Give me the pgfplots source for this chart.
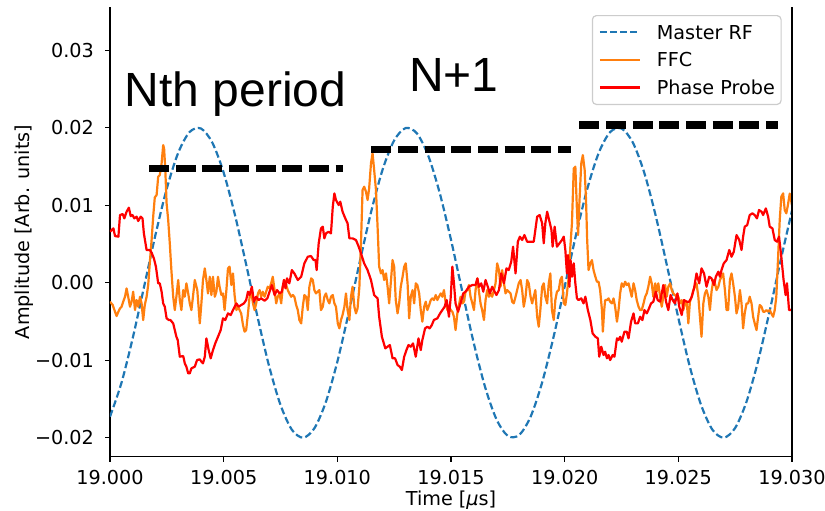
\documentclass[border=0pt]{standalone}
\usepackage{fontspec}
\setmainfont{DejaVu Sans}
\newfontfamily\annfont{Liberation Sans}
\usepackage{pgfplots}
\usepackage{pgfplotstable}
\pgfplotsset{compat=1.18}

\definecolor{rfblue}{HTML}{1F77B4}
\definecolor{ffcorange}{HTML}{FF7F0E}
\definecolor{probered}{HTML}{FF0000}

% Master RF reference (time in us, amplitude in arb. units)
\pgfplotstableread[row sep=\\]{
t a\\
19.0000 -0.01729\\ 19.0005 -0.01296\\ 19.0010 -0.00714\\ 19.0015 -0.00051\\
19.0020 0.00618\\ 19.0025 0.01217\\ 19.0030 0.01676\\ 19.0035 0.01944\\
19.0040 0.01990\\ 19.0045 0.01808\\ 19.0050 0.01420\\ 19.0055 0.00870\\
19.0060 0.00221\\ 19.0065 -0.00454\\ 19.0070 -0.01078\\ 19.0075 -0.01577\\
19.0080 -0.01897\\ 19.0085 -0.02000\\ 19.0090 -0.01874\\ 19.0095 -0.01535\\
19.0100 -0.01020\\ 19.0105 -0.00388\\ 19.0110 0.00287\\ 19.0115 0.00930\\
19.0120 0.01467\\ 19.0125 0.01836\\ 19.0130 0.01995\\ 19.0135 0.01927\\
19.0140 0.01638\\ 19.0145 0.01162\\ 19.0150 0.00554\\ 19.0155 -0.00118\\
19.0160 -0.00777\\ 19.0165 -0.01346\\ 19.0170 -0.01762\\ 19.0175 -0.01977\\
19.0180 -0.01965\\ 19.0185 -0.01730\\ 19.0190 -0.01296\\ 19.0195 -0.00714\\
19.0200 -0.00051\\ 19.0205 0.00618\\ 19.0210 0.01217\\ 19.0215 0.01676\\
19.0220 0.01944\\ 19.0225 0.01990\\ 19.0230 0.01808\\ 19.0235 0.01420\\
19.0240 0.00870\\ 19.0245 0.00221\\ 19.0250 -0.00454\\ 19.0255 -0.01078\\
19.0260 -0.01577\\ 19.0265 -0.01897\\ 19.0270 -0.02000\\ 19.0275 -0.01874\\
19.0280 -0.01535\\ 19.0285 -0.01020\\ 19.0290 -0.00388\\ 19.0295 0.00287\\
19.0300 0.00930\\
}\masterrf

% FFC signal
\pgfplotstableread[row sep=\\]{
t a\\
19.00000 -0.00245\\ 19.00012 -0.00288\\ 19.00022 -0.00374\\ 19.00029 -0.00430\\
19.00037 -0.00374\\ 19.00044 -0.00331\\ 19.00051 -0.00310\\ 19.00058 -0.00245\\
19.00066 -0.00181\\ 19.00073 -0.00073\\ 19.00080 -0.00181\\ 19.00088 -0.00310\\
19.00095 -0.00245\\ 19.00102 -0.00116\\ 19.00110 -0.00353\\ 19.00117 -0.00224\\
19.00124 -0.00310\\ 19.00132 -0.00181\\ 19.00139 -0.00267\\ 19.00146 -0.00482\\
19.00153 -0.00288\\ 19.00161 -0.00181\\ 19.00168 -0.00030\\ 19.00175 0.00250\\
19.00183 0.00551\\ 19.00190 0.00852\\ 19.00197 0.01101\\ 19.00205 0.01131\\
19.00212 0.01368\\ 19.00219 0.01389\\ 19.00227 0.01540\\ 19.00234 0.01776\\
19.00238 0.01733\\ 19.00243 0.01475\\ 19.00249 0.01024\\ 19.00256 0.00809\\
19.00263 0.00508\\ 19.00270 0.00163\\ 19.00278 -0.00181\\ 19.00285 -0.00353\\
19.00292 -0.00181\\ 19.00300 0.00035\\ 19.00307 -0.00224\\ 19.00314 -0.00353\\
19.00322 -0.00095\\ 19.00329 -0.00181\\ 19.00336 -0.00008\\ 19.00344 -0.00138\\
19.00351 -0.00267\\ 19.00358 -0.00353\\ 19.00365 -0.00181\\ 19.00373 0.00035\\
19.00384 -0.00095\\ 19.00395 -0.00525\\ 19.00402 -0.00267\\ 19.00409 0.00035\\
19.00417 0.00185\\ 19.00424 0.00035\\ 19.00431 -0.00138\\ 19.00439 0.00077\\
19.00446 -0.00159\\ 19.00453 0.00077\\ 19.00461 -0.00181\\ 19.00468 -0.00116\\
19.00475 0.00077\\ 19.00482 -0.00052\\ 19.00490 -0.00159\\ 19.00497 -0.00138\\
19.00504 -0.00353\\ 19.00512 -0.00095\\ 19.00519 0.00185\\ 19.00526 0.00207\\
19.00534 -0.00030\\ 19.00541 0.00120\\ 19.00548 -0.00159\\ 19.00556 -0.00353\\
19.00563 -0.00310\\ 19.00570 -0.00353\\ 19.00577 -0.00396\\ 19.00585 -0.00546\\
19.00592 -0.00632\\ 19.00599 -0.00611\\ 19.00607 -0.00396\\ 19.00614 -0.00181\\
19.00621 -0.00116\\ 19.00629 -0.00267\\ 19.00636 -0.00353\\ 19.00643 -0.00267\\
19.00651 -0.00138\\ 19.00658 -0.00095\\ 19.00665 -0.00181\\ 19.00672 -0.00116\\
19.00680 -0.00181\\ 19.00687 -0.00116\\ 19.00694 -0.00052\\ 19.00702 -0.00073\\
19.00709 -0.00008\\ 19.00716 0.00077\\ 19.00724 -0.00095\\ 19.00731 -0.00267\\
19.00738 -0.00181\\ 19.00746 -0.00138\\ 19.00753 -0.00267\\ 19.00760 -0.00052\\
19.00768 0.00035\\ 19.00775 -0.00030\\ 19.00782 -0.00095\\ 19.00789 -0.00138\\
19.00797 -0.00181\\ 19.00804 -0.00159\\ 19.00811 -0.00181\\ 19.00819 -0.00288\\
19.00826 -0.00353\\ 19.00833 -0.00482\\ 19.00841 -0.00525\\ 19.00848 -0.00310\\
19.00855 -0.00159\\ 19.00863 -0.00181\\ 19.00870 -0.00353\\ 19.00877 -0.00052\\
19.00885 0.00056\\ 19.00892 0.00035\\ 19.00899 -0.00095\\ 19.00906 -0.00138\\
19.00914 -0.00116\\ 19.00921 -0.00095\\ 19.00928 -0.00353\\ 19.00936 -0.00310\\
19.00943 -0.00181\\ 19.00950 -0.00138\\ 19.00958 -0.00224\\ 19.00965 -0.00267\\
19.00972 -0.00181\\ 19.00980 -0.00159\\ 19.00987 -0.00267\\ 19.00994 -0.00310\\
19.01002 -0.00525\\ 19.01009 -0.00589\\ 19.01016 -0.00482\\ 19.01023 -0.00417\\
19.01031 -0.00310\\ 19.01038 -0.00138\\ 19.01045 -0.00353\\ 19.01053 -0.00482\\
19.01060 -0.00181\\ 19.01067 -0.00052\\ 19.01075 -0.00310\\ 19.01082 -0.00396\\
19.01089 -0.00331\\ 19.01097 -0.00052\\ 19.01104 0.00508\\ 19.01111 0.01196\\
19.01118 0.01239\\ 19.01126 0.01174\\ 19.01133 0.01067\\ 19.01140 0.01217\\
19.01148 0.01540\\ 19.01155 0.01669\\ 19.01162 0.01454\\ 19.01170 0.01196\\
19.01177 0.00723\\ 19.01184 0.00207\\ 19.01192 0.00120\\ 19.01199 0.00163\\
19.01206 0.00035\\ 19.01214 0.00120\\ 19.01221 -0.00052\\ 19.01228 -0.00267\\
19.01235 -0.00008\\ 19.01243 0.00292\\ 19.01250 0.00207\\ 19.01257 -0.00224\\
19.01265 -0.00396\\ 19.01272 -0.00267\\ 19.01279 -0.00052\\ 19.01287 0.00077\\
19.01294 0.00207\\ 19.01301 0.00250\\ 19.01309 -0.00008\\ 19.01316 -0.00460\\
19.01323 -0.00181\\ 19.01331 -0.00095\\ 19.01338 -0.00267\\ 19.01345 -0.00008\\
19.01352 -0.00030\\ 19.01360 -0.00138\\ 19.01367 -0.00353\\ 19.01374 -0.00503\\
19.01382 -0.00310\\ 19.01389 -0.00245\\ 19.01396 -0.00353\\ 19.01404 -0.00288\\
19.01411 -0.00224\\ 19.01418 -0.00202\\ 19.01425 -0.00224\\ 19.01433 -0.00159\\
19.01440 -0.00224\\ 19.01447 -0.00181\\ 19.01455 -0.00138\\ 19.01462 -0.00181\\
19.01469 -0.00095\\ 19.01477 -0.00267\\ 19.01484 -0.00353\\ 19.01491 -0.00310\\
19.01499 -0.00353\\ 19.01506 -0.00374\\ 19.01513 -0.00439\\ 19.01520 -0.00611\\
19.01528 -0.00396\\ 19.01535 -0.00288\\ 19.01542 -0.00181\\ 19.01550 -0.00267\\
19.01557 -0.00245\\ 19.01564 -0.00116\\ 19.01572 -0.00095\\ 19.01579 -0.00030\\
19.01586 -0.00181\\ 19.01594 -0.00267\\ 19.01601 -0.00353\\ 19.01608 -0.00095\\
19.01616 0.00056\\ 19.01623 -0.00116\\ 19.01630 -0.00267\\ 19.01637 -0.00353\\
19.01645 -0.00482\\ 19.01652 -0.00224\\ 19.01659 -0.00095\\ 19.01667 -0.00181\\
19.01674 -0.00138\\ 19.01681 -0.00181\\ 19.01689 -0.00095\\ 19.01696 -0.00008\\
19.01703 0.00250\\ 19.01711 0.00163\\ 19.01718 -0.00052\\ 19.01725 0.00163\\
19.01733 -0.00008\\ 19.01740 -0.00138\\ 19.01747 -0.00095\\ 19.01754 -0.00116\\
19.01762 -0.00138\\ 19.01769 -0.00245\\ 19.01776 -0.00267\\ 19.01784 -0.00181\\
19.01791 -0.00095\\ 19.01798 -0.00008\\ 19.01806 0.00035\\ 19.01813 -0.00095\\
19.01820 -0.00310\\ 19.01828 -0.00181\\ 19.01835 0.00035\\ 19.01842 -0.00008\\
19.01850 -0.00181\\ 19.01857 -0.00267\\ 19.01864 -0.00181\\ 19.01871 -0.00095\\
19.01879 -0.00439\\ 19.01886 -0.00568\\ 19.01893 -0.00353\\ 19.01901 -0.00052\\
19.01908 -0.00008\\ 19.01915 -0.00181\\ 19.01923 -0.00267\\ 19.01930 -0.00008\\
19.01937 0.00120\\ 19.01944 -0.00353\\ 19.01952 -0.00482\\ 19.01959 -0.00224\\
19.01966 -0.00116\\ 19.01974 -0.00095\\ 19.01981 0.00035\\ 19.01988 0.00077\\
19.01996 -0.00267\\ 19.02003 -0.00288\\ 19.02010 -0.00138\\ 19.02018 0.00077\\
19.02025 0.00465\\ 19.02032 0.00766\\ 19.02040 0.01475\\ 19.02047 0.01497\\
19.02054 0.00938\\ 19.02059 0.00615\\ 19.02064 0.00981\\ 19.02073 0.01540\\
19.02080 0.01647\\ 19.02088 0.01454\\ 19.02094 0.01067\\ 19.02099 0.00551\\
19.02105 0.00163\\ 19.02113 0.00250\\ 19.02120 0.00292\\ 19.02127 0.00163\\
19.02135 0.00077\\ 19.02142 0.00013\\ 19.02149 0.00013\\ 19.02156 -0.00095\\
19.02164 -0.00353\\ 19.02168 -0.00632\\ 19.02174 -0.00353\\ 19.02178 -0.00224\\
19.02186 -0.00224\\ 19.02193 -0.00202\\ 19.02200 -0.00245\\ 19.02208 -0.00267\\
19.02215 -0.00202\\ 19.02222 -0.00310\\ 19.02230 -0.00503\\ 19.02237 -0.00353\\
19.02244 -0.00138\\ 19.02251 -0.00008\\ 19.02259 -0.00052\\ 19.02266 0.00013\\
19.02273 -0.00030\\ 19.02281 -0.00008\\ 19.02288 -0.00095\\ 19.02295 -0.00181\\
19.02303 -0.00008\\ 19.02310 -0.00095\\ 19.02317 -0.00224\\ 19.02325 -0.00310\\
19.02332 -0.00353\\ 19.02339 -0.00353\\ 19.02347 -0.00267\\ 19.02354 -0.00181\\
19.02361 -0.00138\\ 19.02368 -0.00052\\ 19.02376 0.00077\\ 19.02383 -0.00008\\
19.02390 -0.00181\\ 19.02398 -0.00008\\ 19.02405 -0.00116\\ 19.02412 -0.00008\\
19.02420 -0.00181\\ 19.02427 -0.00310\\ 19.02434 -0.00181\\ 19.02442 -0.00030\\
19.02449 -0.00181\\ 19.02456 -0.00052\\ 19.02464 -0.00008\\ 19.02471 -0.00095\\
19.02478 -0.00138\\ 19.02485 -0.00159\\ 19.02493 -0.00181\\ 19.02500 -0.00181\\
19.02507 -0.00267\\ 19.02515 -0.00224\\ 19.02522 -0.00353\\ 19.02529 -0.00267\\
19.02537 -0.00245\\ 19.02544 -0.00525\\ 19.02551 -0.00245\\ 19.02559 -0.00181\\
19.02566 -0.00095\\ 19.02573 -0.00052\\ 19.02580 -0.00008\\ 19.02588 -0.00181\\
19.02595 -0.00439\\ 19.02602 -0.00697\\ 19.02610 -0.00267\\ 19.02617 -0.00138\\
19.02624 -0.00095\\ 19.02632 -0.00181\\ 19.02639 -0.00353\\ 19.02646 -0.00116\\
19.02654 0.00035\\ 19.02661 -0.00008\\ 19.02668 -0.00095\\ 19.02676 -0.00052\\
19.02683 0.00035\\ 19.02690 0.00077\\ 19.02697 0.00120\\ 19.02705 -0.00095\\
19.02712 -0.00353\\ 19.02719 -0.00353\\ 19.02727 0.00035\\ 19.02734 0.00120\\
19.02741 -0.00008\\ 19.02749 -0.00181\\ 19.02756 -0.00396\\ 19.02763 -0.00310\\
19.02771 -0.00095\\ 19.02778 -0.00267\\ 19.02785 -0.00589\\ 19.02792 -0.00396\\
19.02800 -0.00267\\ 19.02807 -0.00267\\ 19.02814 -0.00181\\ 19.02822 -0.00267\\
19.02829 -0.00439\\ 19.02836 -0.00525\\ 19.02844 -0.00611\\ 19.02851 -0.00439\\
19.02858 -0.00288\\ 19.02866 -0.00310\\ 19.02873 -0.00374\\ 19.02880 -0.00374\\
19.02887 -0.00353\\ 19.02895 -0.00374\\ 19.02902 -0.00353\\ 19.02909 -0.00396\\
19.02917 -0.00439\\ 19.02924 -0.00353\\ 19.02931 -0.00181\\ 19.02939 0.00335\\
19.02946 0.00809\\ 19.02953 0.01110\\ 19.02961 0.01153\\ 19.02968 0.00938\\
19.02975 0.00895\\ 19.02982 0.01002\\ 19.02990 0.01150\\ 19.03000 0.01000\\
}\ffc

% Phase probe signal
\pgfplotstableread[row sep=\\]{
t a\\
19.00000 0.00658\\ 19.00015 0.00701\\ 19.00022 0.00602\\ 19.00037 0.00594\\
19.00044 0.00873\\ 19.00056 0.00886\\ 19.00063 0.00830\\ 19.00073 0.00916\\
19.00083 0.00968\\ 19.00091 0.00860\\ 19.00099 0.00873\\ 19.00107 0.00830\\
19.00117 0.00852\\ 19.00124 0.00796\\ 19.00135 0.00852\\ 19.00143 0.00830\\
19.00149 0.00637\\ 19.00161 0.00422\\ 19.00175 0.00422\\ 19.00183 0.00387\\
19.00193 0.00314\\ 19.00202 0.00207\\ 19.00212 -0.00008\\ 19.00219 -0.00008\\
19.00227 -0.00116\\ 19.00234 -0.00267\\ 19.00241 -0.00310\\ 19.00249 -0.00460\\
19.00259 -0.00482\\ 19.00266 -0.00482\\ 19.00278 -0.00525\\ 19.00285 -0.00611\\
19.00292 -0.00697\\ 19.00298 -0.00740\\ 19.00307 -0.00955\\ 19.00322 -0.00946\\
19.00329 -0.01041\\ 19.00336 -0.01084\\ 19.00344 -0.01170\\ 19.00351 -0.01170\\
19.00358 -0.01105\\ 19.00373 -0.01084\\ 19.00383 -0.00998\\ 19.00395 -0.00989\\
19.00402 -0.01019\\ 19.00409 -0.01041\\ 19.00417 -0.00955\\ 19.00424 -0.00718\\
19.00434 -0.00869\\ 19.00443 -0.00976\\ 19.00453 -0.00869\\ 19.00463 -0.00783\\
19.00475 -0.00697\\ 19.00487 -0.00611\\ 19.00497 -0.00460\\ 19.00507 -0.00482\\
19.00519 -0.00396\\ 19.00531 -0.00417\\ 19.00541 -0.00353\\ 19.00556 -0.00267\\
19.00566 -0.00310\\ 19.00577 -0.00288\\ 19.00589 -0.00267\\ 19.00599 -0.00224\\
19.00607 -0.00116\\ 19.00614 -0.00159\\ 19.00624 -0.00052\\ 19.00633 -0.00245\\
19.00643 -0.00181\\ 19.00654 -0.00224\\ 19.00665 -0.00202\\ 19.00680 -0.00232\\
19.00692 -0.00202\\ 19.00702 -0.00116\\ 19.00712 -0.00030\\ 19.00724 -0.00159\\
19.00735 -0.00095\\ 19.00746 -0.00138\\ 19.00756 -0.00116\\ 19.00765 0.00035\\
19.00772 -0.00073\\ 19.00779 0.00056\\ 19.00789 -0.00008\\ 19.00800 0.00163\\
19.00811 0.00120\\ 19.00826 0.00035\\ 19.00841 0.00077\\ 19.00855 0.00250\\
19.00870 0.00335\\ 19.00884 0.00344\\ 19.00896 0.00292\\ 19.00904 0.00292\\
19.00909 0.00163\\ 19.00918 0.00508\\ 19.00928 0.00701\\ 19.00936 0.00723\\
19.00943 0.00572\\ 19.00950 0.00637\\ 19.00962 0.00658\\ 19.00972 0.00637\\
19.00980 0.00981\\ 19.00987 0.01153\\ 19.00994 0.01067\\ 19.01006 0.01002\\
19.01013 0.01045\\ 19.01023 0.00916\\ 19.01035 0.00830\\ 19.01045 0.00766\\
19.01053 0.00572\\ 19.01067 0.00572\\ 19.01082 0.00551\\ 19.01094 0.00465\\
19.01104 0.00379\\ 19.01118 0.00250\\ 19.01133 0.00163\\ 19.01148 0.00035\\
19.01162 -0.00159\\ 19.01177 -0.00202\\ 19.01184 -0.00439\\ 19.01196 -0.00697\\
19.01211 -0.00847\\ 19.01221 -0.00826\\ 19.01231 -0.00804\\ 19.01243 -0.00976\\
19.01254 -0.00976\\ 19.01265 -0.01062\\ 19.01275 -0.01084\\ 19.01284 -0.01127\\
19.01294 -0.00955\\ 19.01304 -0.00869\\ 19.01313 -0.00804\\ 19.01323 -0.00826\\
19.01333 -0.00783\\ 19.01345 -0.00955\\ 19.01357 -0.00718\\ 19.01367 -0.00869\\
19.01374 -0.00740\\ 19.01386 -0.00589\\ 19.01396 -0.00568\\ 19.01406 -0.00589\\
19.01415 -0.00550\\ 19.01425 -0.00480\\ 19.01440 -0.00460\\ 19.01452 -0.00396\\
19.01462 -0.00353\\ 19.01472 -0.00310\\ 19.01481 -0.00224\\ 19.01491 -0.00439\\
19.01499 -0.00181\\ 19.01506 0.00207\\ 19.01513 -0.00008\\ 19.01520 -0.00267\\
19.01531 -0.00374\\ 19.01542 -0.00267\\ 19.01554 -0.00138\\ 19.01564 -0.00116\\
19.01579 -0.00052\\ 19.01594 -0.00030\\ 19.01608 -0.00030\\ 19.01616 0.00056\\
19.01623 -0.00052\\ 19.01633 -0.00008\\ 19.01642 -0.00116\\ 19.01652 0.00035\\
19.01662 -0.00052\\ 19.01671 -0.00138\\ 19.01681 -0.00052\\ 19.01692 -0.00116\\
19.01700 -0.00159\\ 19.01711 -0.00095\\ 19.01721 0.00120\\ 19.01733 -0.00008\\
19.01744 0.00185\\ 19.01754 0.00163\\ 19.01765 0.00271\\ 19.01773 0.00465\\
19.01784 0.00120\\ 19.01794 0.00529\\ 19.01803 0.00594\\ 19.01813 0.00551\\
19.01823 0.00615\\ 19.01835 0.00529\\ 19.01847 0.00529\\ 19.01864 0.00529\\
19.01879 0.00852\\ 19.01890 0.00873\\ 19.01901 0.00766\\ 19.01908 0.00508\\
19.01915 0.00766\\ 19.01923 0.00916\\ 19.01930 0.00830\\ 19.01942 0.00680\\
19.01947 0.00465\\ 19.01956 0.00723\\ 19.01966 0.00465\\ 19.01977 0.00508\\
19.01988 0.00551\\ 19.01996 0.00594\\ 19.02003 0.00422\\ 19.02010 0.00120\\
19.02015 0.00357\\ 19.02021 -0.00052\\ 19.02026 0.00292\\ 19.02032 0.00077\\
19.02040 0.00250\\ 19.02047 -0.00008\\ 19.02054 -0.00202\\ 19.02061 -0.00224\\
19.02073 -0.00202\\ 19.02083 -0.00267\\ 19.02091 -0.00181\\ 19.02102 -0.00353\\
19.02113 -0.00482\\ 19.02123 -0.00654\\ 19.02135 -0.00697\\ 19.02146 -0.00718\\
19.02152 -0.00955\\ 19.02161 -0.00826\\ 19.02171 -0.00933\\ 19.02178 -0.00890\\
19.02186 -0.00976\\ 19.02193 -0.00933\\ 19.02200 -0.00998\\ 19.02211 -0.00933\\
19.02219 -0.00955\\ 19.02230 -0.00718\\ 19.02237 -0.00740\\ 19.02244 -0.00697\\
19.02251 -0.00761\\ 19.02263 -0.00632\\ 19.02273 -0.00632\\ 19.02281 -0.00718\\
19.02292 -0.00503\\ 19.02303 -0.00396\\ 19.02310 -0.00525\\ 19.02322 -0.00525\\
19.02332 -0.00439\\ 19.02342 -0.00482\\ 19.02351 -0.00353\\ 19.02361 -0.00396\\
19.02368 -0.00353\\ 19.02380 -0.00267\\ 19.02390 -0.00245\\ 19.02401 -0.00116\\
19.02409 -0.00224\\ 19.02420 -0.00245\\ 19.02434 -0.00030\\ 19.02446 -0.00245\\
19.02456 -0.00353\\ 19.02466 -0.00159\\ 19.02475 -0.00224\\ 19.02485 -0.00267\\
19.02496 -0.00138\\ 19.02504 -0.00310\\ 19.02515 -0.00417\\ 19.02525 -0.00224\\
19.02537 -0.00245\\ 19.02548 -0.00245\\ 19.02559 -0.00181\\ 19.02569 -0.00073\\
19.02580 0.00120\\ 19.02592 -0.00008\\ 19.02602 0.00185\\ 19.02613 0.00120\\
19.02624 -0.00052\\ 19.02636 0.00077\\ 19.02646 0.00056\\ 19.02657 -0.00030\\
19.02665 0.00077\\ 19.02676 0.00142\\ 19.02683 0.00077\\ 19.02690 0.00163\\
19.02700 0.00250\\ 19.02712 0.00292\\ 19.02724 0.00422\\ 19.02734 0.00335\\
19.02744 0.00400\\ 19.02756 0.00615\\ 19.02768 0.00551\\ 19.02778 0.00422\\
19.02785 0.00594\\ 19.02792 0.00723\\ 19.02803 0.00744\\ 19.02814 0.00873\\
19.02826 0.00895\\ 19.02836 0.00873\\ 19.02846 0.00830\\ 19.02855 0.00938\\
19.02866 0.00916\\ 19.02873 0.00873\\ 19.02885 0.00959\\ 19.02895 0.00852\\
19.02902 0.00723\\ 19.02914 0.00701\\ 19.02924 0.00551\\ 19.02934 0.00529\\
19.02943 0.00594\\ 19.02953 0.00335\\ 19.02963 0.00035\\ 19.02972 -0.00159\\
19.02978 -0.00008\\ 19.02987 -0.00353\\ 19.03000 -0.00350\\
}\probe

\begin{document}
\begin{tikzpicture}[font=\fontsize{9.6}{11.5}\selectfont]
\useasboundingbox (0,0) rectangle (412.5pt,-255pt);
\begin{axis}[
  name=ax,
  at={(55pt,-228.35pt)}, anchor=south west,
  scale only axis, width=341pt, height=224.7pt,
  xmin=19, xmax=19.03, ymin=-0.022452, ymax=0.035535,
  axis x line*=bottom, axis y line*=left,
  axis line style={line width=0.7pt, black},
  every tick/.style={black, line width=0.7pt},
  tick align=outside, major tick length=2.5pt,
  xtick={19,19.005,19.01,19.015,19.02,19.025,19.03},
  xticklabels={19.000,19.005,19.010,19.015,19.020,19.025,19.030},
  ytick={-0.02,-0.01,0,0.01,0.02,0.03},
  yticklabels={−0.02,−0.01,0.00,0.01,0.02,0.03},
  scaled x ticks=false, scaled y ticks=false,
  tick label style={font=\fontsize{9.6}{11.5}\selectfont},
  xticklabel style={anchor=north, inner sep=0pt, yshift=-4.15pt},
  yticklabel style={anchor=east, inner sep=0pt, xshift=-5.35pt},
  xlabel={Time [{\itshape μ}s]},
  ylabel={Amplitude [Arb. units]},
  label style={font=\fontsize{9.6}{11.5}\selectfont},
  xlabel style={at={(axis description cs:0.5,-0.0965)}, anchor=center, inner sep=0pt},
  ylabel style={at={(axis description cs:-0.1254,0.5)}, anchor=center, inner sep=0pt},
  legend style={at={(1,1)}, anchor=north east, xshift=-5.15pt, yshift=-3.85pt,
    draw=black!20, fill=white, rounded corners=2pt, line width=0.6pt,
    inner xsep=3.15pt, inner ysep=4.8pt, row sep=6.7pt,
    font=\fontsize{9.6}{11.5}\selectfont,
    nodes={inner sep=0pt, text depth=0pt}},
  legend cell align=left,
  legend image code/.code={\draw[#1] (0pt,0pt) -- (20pt,0pt); \path (28pt,0pt);},
]
\addplot[rfblue, line width=1.1pt, dash pattern=on 3.5pt off 1.6pt, smooth]
  table[x=t, y=a] {\masterrf};
\addlegendentry{Master RF}
\addplot[ffcorange, line width=1.1pt, line join=round]
  table[x=t, y=a] {\ffc};
\addlegendentry{FFC}
\addplot[probered, line width=1.1pt, line join=round]
  table[x=t, y=a] {\probe};
\addlegendentry{Phase Probe}

% period markers
\addplot[forget plot, black, line width=3.8pt, dash pattern=on 10pt off 3.33pt]
  coordinates {(19.00172,0.01476) (19.01023,0.01476)};
\addplot[forget plot, black, line width=3.8pt, dash pattern=on 10pt off 3.33pt]
  coordinates {(19.01150,0.01721) (19.02028,0.01721)};
\addplot[forget plot, black, line width=3.8pt, dash pattern=on 10pt off 3.33pt]
  coordinates {(19.02064,0.02035) (19.02939,0.02035)};

\node[anchor=base west, inner sep=0pt, font=\annfont\fontsize{24}{28}\selectfont]
  at (axis cs:19.00064,0.02271) {Nth period};
\node[anchor=base west, inner sep=0pt, font=\annfont\fontsize{24}{28}\selectfont]
  at (axis cs:19.01314,0.02465) {N+1};
\end{axis}
\draw[line width=0.7pt, black] (ax.south east) -- (ax.north east);
\end{tikzpicture}
\end{document}
